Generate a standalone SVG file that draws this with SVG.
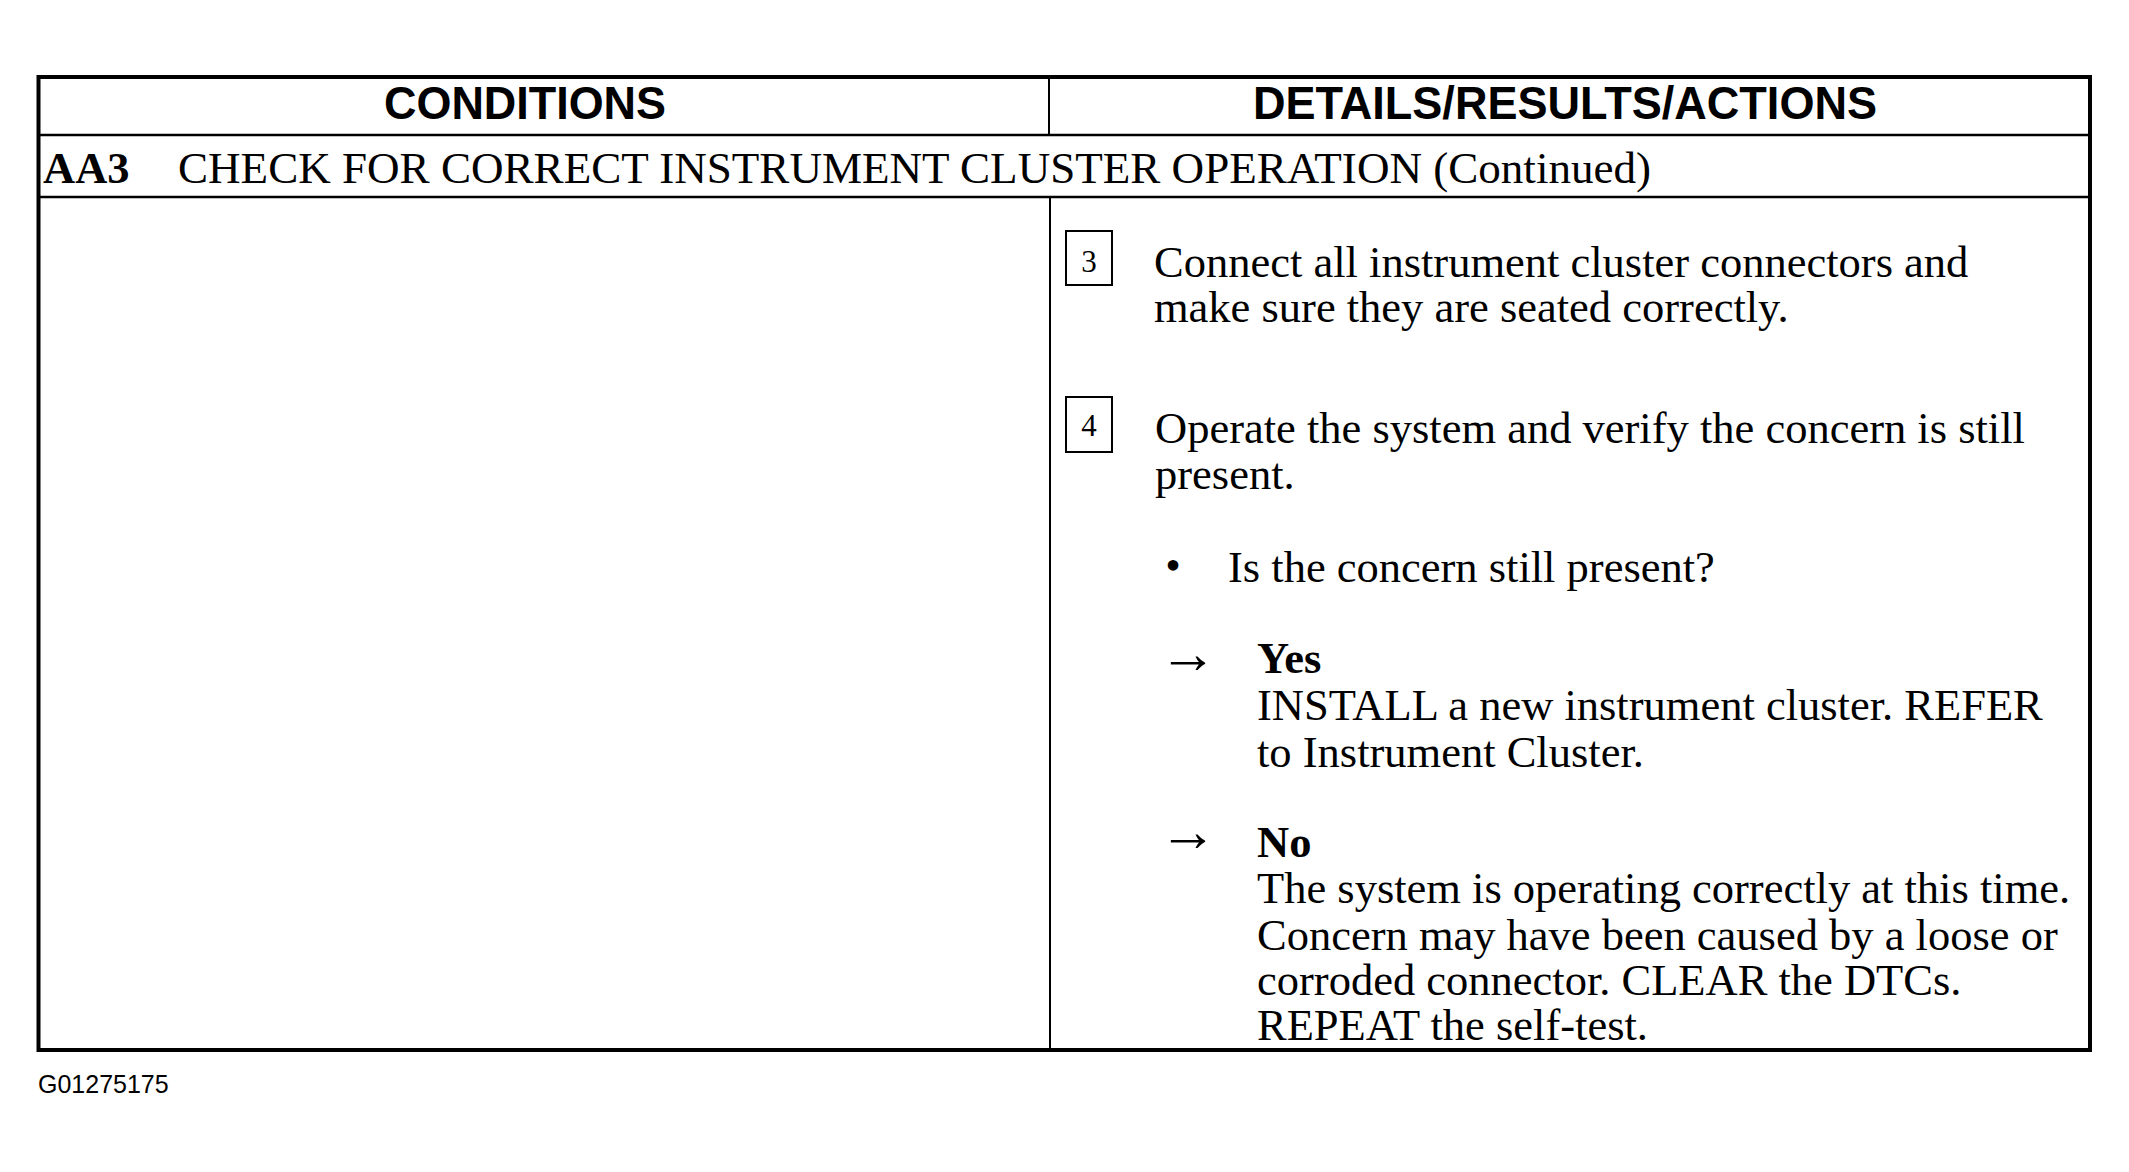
<svg xmlns="http://www.w3.org/2000/svg" width="2129" height="1172" viewBox="0 0 2129 1172">
  <style>
    .hdr { font-family: "Liberation Sans", Arial, sans-serif; font-weight: bold; font-size: 46px; fill: #000; }
    .serif { font-family: "Liberation Serif", "Times New Roman", serif; font-size: 44.5px; fill: #000; }
    .bold { font-weight: bold; }
    .num { font-family: "Liberation Serif", "Times New Roman", serif; font-size: 31px; fill: #000; text-anchor: middle; }
    .arrow { font-family: "Liberation Serif", "Times New Roman", serif; font-size: 58px; fill: #000; }
    .line { stroke: #000; fill: none; }
    .box { stroke: #000; stroke-width: 2; fill: none; }
    .fig { font-family: "Liberation Sans", Arial, sans-serif; font-size: 25px; fill: #000; }
  </style>
  <rect width="2129" height="1172" fill="#fff"/>

  <g id="table">
    <rect class="line" x="38.5" y="77" width="2051.5" height="973" stroke-width="4"/>
    <line class="line" x1="38" y1="135" x2="2090" y2="135" stroke-width="2.5"/>
    <line class="line" x1="38" y1="197" x2="2090" y2="197" stroke-width="2.5"/>
    <line class="line" x1="1049" y1="77" x2="1049" y2="135" stroke-width="2"/>
    <line class="line" x1="1050" y1="197" x2="1050" y2="1050" stroke-width="2"/>
  </g>

  <g id="header-conditions">
    <text class="hdr" x="525" y="119" text-anchor="middle" textLength="282" lengthAdjust="spacingAndGlyphs">CONDITIONS</text>
  </g>
  <g id="header-details">
    <text class="hdr" x="1565" y="119" text-anchor="middle" textLength="624" lengthAdjust="spacingAndGlyphs">DETAILS/RESULTS/ACTIONS</text>
  </g>

  <g id="title-row">
    <text class="serif bold" x="43" y="183" font-size="45">AA3</text>
    <text class="serif" x="178" y="183" textLength="1473" lengthAdjust="spacingAndGlyphs">CHECK FOR CORRECT INSTRUMENT CLUSTER OPERATION (Continued)</text>
  </g>

  <g id="step-3">
    <rect class="box" x="1066" y="231" width="46" height="54"/>
    <text class="num" x="1089" y="272">3</text>
    <text class="serif" x="1154" y="277">Connect all instrument cluster connectors and</text>
    <text class="serif" x="1154" y="322">make sure they are seated correctly.</text>
  </g>

  <g id="step-4">
    <rect class="box" x="1066" y="397" width="46" height="55"/>
    <text class="num" x="1089" y="436">4</text>
    <text class="serif" x="1155" y="443">Operate the system and verify the concern is still</text>
    <text class="serif" x="1155" y="489">present.</text>
  </g>

  <g id="question">
    <text class="serif" x="1173" y="580" text-anchor="middle">•</text>
    <text class="serif" x="1228" y="582">Is the concern still present?</text>
  </g>

  <g id="answer-yes">
    <text class="arrow" x="1159" y="673">→</text>
    <text class="serif bold" x="1257" y="673">Yes</text>
    <text class="serif" x="1257" y="720">INSTALL a new instrument cluster. REFER</text>
    <text class="serif" x="1257" y="767">to Instrument Cluster.</text>
  </g>

  <g id="answer-no">
    <text class="arrow" x="1159" y="851">→</text>
    <text class="serif bold" x="1257" y="857">No</text>
    <text class="serif" x="1257" y="903">The system is operating correctly at this time.</text>
    <text class="serif" x="1257" y="950">Concern may have been caused by a loose or</text>
    <text class="serif" x="1257" y="995">corroded connector. CLEAR the DTCs.</text>
    <text class="serif" x="1257" y="1040">REPEAT the self-test.</text>
  </g>

  <g id="connectors"></g>

  <g id="figure-id">
    <text class="fig" x="38" y="1093">G01275175</text>
  </g>
</svg>
